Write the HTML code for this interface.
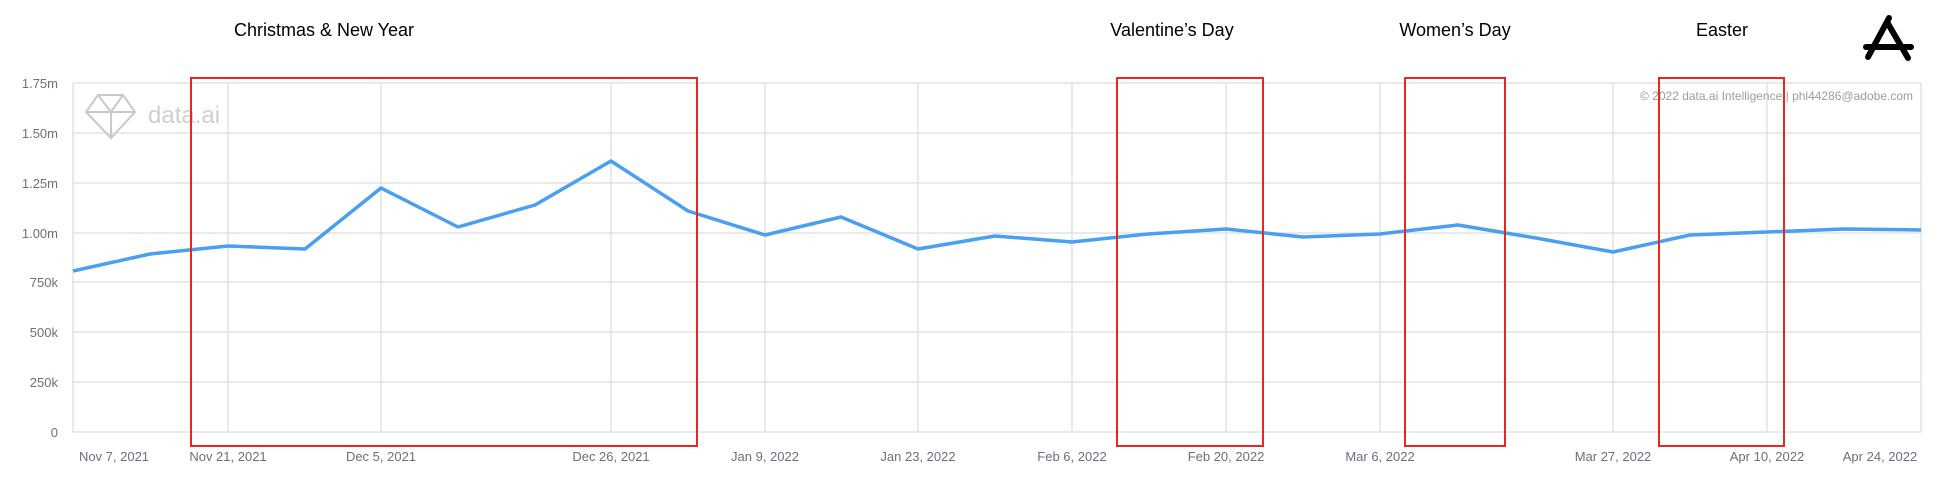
<!DOCTYPE html><html><head><style>body{margin:0;background:#fff}svg{display:block}</style></head><body>
<svg width="1938" height="484" xmlns="http://www.w3.org/2000/svg" font-family="Liberation Sans, sans-serif">
<g stroke="#dcdde3" stroke-width="1.2">
<line x1="73" y1="83" x2="1921" y2="83"/><line x1="73" y1="133" x2="1921" y2="133"/><line x1="73" y1="183" x2="1921" y2="183"/><line x1="73" y1="233" x2="1921" y2="233"/><line x1="73" y1="282" x2="1921" y2="282"/><line x1="73" y1="332" x2="1921" y2="332"/><line x1="73" y1="382" x2="1921" y2="382"/><line x1="73" y1="432" x2="1921" y2="432"/>
<line x1="73" y1="83" x2="73" y2="432"/><line x1="1921" y1="83" x2="1921" y2="432"/>
<line x1="228" y1="83" x2="228" y2="432"/><line x1="381" y1="83" x2="381" y2="432"/><line x1="611" y1="83" x2="611" y2="432"/><line x1="765" y1="83" x2="765" y2="432"/><line x1="918" y1="83" x2="918" y2="432"/><line x1="1072" y1="83" x2="1072" y2="432"/><line x1="1226" y1="83" x2="1226" y2="432"/><line x1="1380" y1="83" x2="1380" y2="432"/><line x1="1613" y1="83" x2="1613" y2="432"/><line x1="1767" y1="83" x2="1767" y2="432"/>
</g>
<g fill="#6b6f80" font-size="13" text-anchor="end">
<text x="58" y="88">1.75m</text><text x="58" y="138">1.50m</text><text x="58" y="188">1.25m</text><text x="58" y="238">1.00m</text><text x="58" y="287">750k</text><text x="58" y="337">500k</text><text x="58" y="387">250k</text><text x="58" y="437">0</text>
</g>
<g fill="#6b6f80" font-size="13" text-anchor="middle">
<text x="114" y="461">Nov 7, 2021</text><text x="228" y="461">Nov 21, 2021</text><text x="381" y="461">Dec 5, 2021</text><text x="611" y="461">Dec 26, 2021</text><text x="765" y="461">Jan 9, 2022</text><text x="918" y="461">Jan 23, 2022</text><text x="1072" y="461">Feb 6, 2022</text><text x="1226" y="461">Feb 20, 2022</text><text x="1380" y="461">Mar 6, 2022</text><text x="1613" y="461">Mar 27, 2022</text><text x="1767" y="461">Apr 10, 2022</text><text x="1880" y="461">Apr 24, 2022</text>
</g>
<g stroke="#c9c9cc" stroke-width="2" fill="none"><polygon points="86,112 98,95 123,95 135,112 111,138"/><path d="M86,112H135M98,95L111,112L123,95M111,112V138"/></g>
<text x="148" y="123" font-size="24" fill="#cfcfd2">data.ai</text>
<text x="1913" y="100" font-size="12" fill="#9a9ca6" text-anchor="end">© 2022 data.ai Intelligence | phl44286@adobe.com</text>
<polyline fill="none" stroke="#4a9ff0" stroke-width="3.5" stroke-linejoin="round" points="73,271 150,254 228,246 305,249 381,188 458,227 535,205 611,161 688,211 765,235 841,217 918,249 995,236 1072,242 1148,234 1226,229 1303,237 1380,234 1458,225 1536,238 1613,252 1690,235 1767,232 1844,229 1921,230"/>
<g stroke="#e8281e" stroke-width="2" fill="none">
<rect x="191" y="78" width="506" height="368"/><rect x="1117" y="78" width="146" height="368"/><rect x="1405" y="78" width="100" height="368"/><rect x="1659" y="78" width="125" height="368"/>
</g>
<g font-size="18" fill="#000" text-anchor="middle">
<text x="324" y="36">Christmas &amp; New Year</text><text x="1172" y="36">Valentine’s Day</text><text x="1455" y="36">Women’s Day</text><text x="1722" y="36">Easter</text>
</g>
<g stroke="#000" stroke-width="6" stroke-linecap="round"><line x1="1889" y1="18" x2="1868" y2="57"/><line x1="1887" y1="22" x2="1908" y2="58"/><line x1="1866" y1="47" x2="1911" y2="47"/></g>
</svg></body></html>
